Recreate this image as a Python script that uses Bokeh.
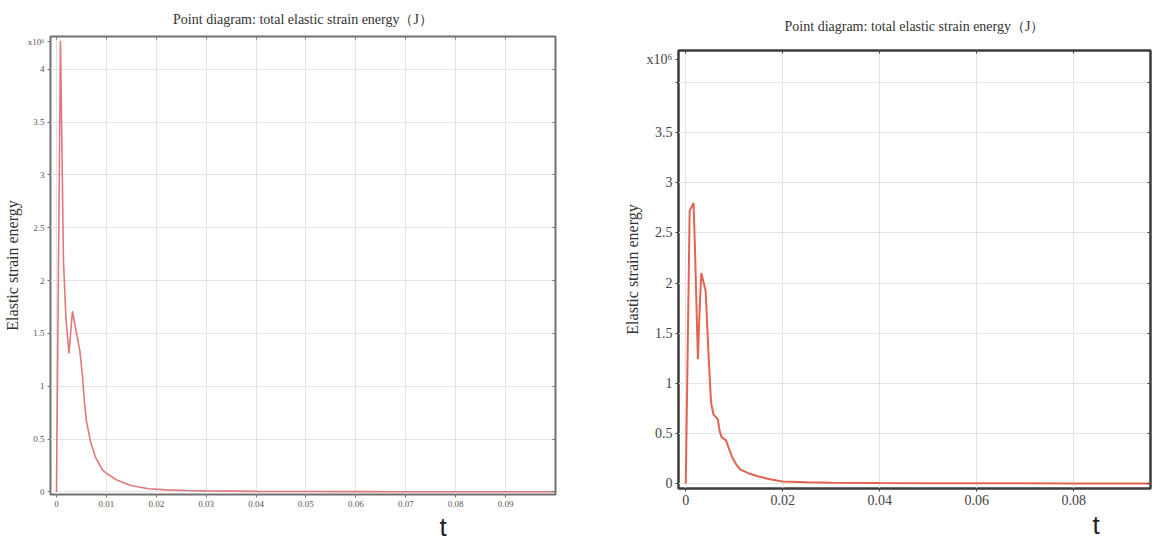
from bokeh.plotting import figure
from bokeh.layouts import row, column
from bokeh.models import Range1d, FixedTicker, LinearAxis, Title, CustomLabelingPolicy
from bokeh.embed import file_html
from bokeh.resources import INLINE

TITLE = "Point diagram: total elastic strain energy（J）"
YLABEL = "Elastic strain energy"
EXP_LABEL = "x10⁶"

# ---- data (energy in units of 10^6 J, time t in s) ----
t_left = [0.0, 0.0008, 0.0014, 0.0019, 0.0025, 0.0032, 0.0041, 0.0047, 0.0052, 0.0056,
          0.0060, 0.0068, 0.0078, 0.0092, 0.0102, 0.0122, 0.0149, 0.0184, 0.022, 0.026,
          0.030, 0.035, 0.040, 0.050, 0.060, 0.070, 0.080, 0.090, 0.100]
e_left = [0.0, 4.27, 2.18, 1.64, 1.31, 1.71, 1.48, 1.33, 1.10, 0.85,
          0.67, 0.48, 0.33, 0.21, 0.17, 0.11, 0.062, 0.03, 0.02, 0.014,
          0.010, 0.008, 0.006, 0.004, 0.003, 0.0025, 0.002, 0.002, 0.002]

t_right = [0.0, 0.0008, 0.0016, 0.0019, 0.0025, 0.0028, 0.0032, 0.0036, 0.0041, 0.0047,
           0.0052, 0.0057, 0.0066, 0.0070, 0.0074, 0.0083, 0.0088, 0.0095, 0.0104, 0.0112,
           0.0130, 0.0150, 0.0171, 0.0199, 0.025, 0.030, 0.040, 0.050, 0.060, 0.080, 0.100]
e_right = [0.0, 2.72, 2.80, 2.34, 1.24, 1.67, 2.10, 2.02, 1.92, 1.28,
           0.81, 0.69, 0.64, 0.52, 0.46, 0.43, 0.36, 0.27, 0.19, 0.14,
           0.10, 0.07, 0.045, 0.02, 0.012, 0.008, 0.004, 0.003, 0.002, 0.001, 0.001]

left_xticks = [0.0, 0.01, 0.02, 0.03, 0.04, 0.05, 0.06, 0.07, 0.08, 0.09]
left_xlabels = ["0", "0.01", "0.02", "0.03", "0.04", "0.05", "0.06", "0.07", "0.08", "0.09"]
right_xticks = [0.0, 0.02, 0.04, 0.06, 0.08, 0.1]
right_xlabels = ["0", "0.02", "0.04", "0.06", "0.08", "0.1"]
yticks = [0.0, 0.5, 1.0, 1.5, 2.0, 2.5, 3.0, 3.5, 4.0]
left_ylabels = ["0", "0.5", "1", "1.5", "2", "2.5", "3", "3.5", "4"]
right_ylabels = ["0", "0.5", "1", "1.5", "2", "2.5", "3", "3.5", ""]
# position (in units of 10^6) where the exponent note sits beside the y axis
left_exp_pos = 4.26
right_exp_pos = 4.23

HIDE_ALL = CustomLabelingPolicy(code="""
for (let i = 0; i < indices.size; i++) { indices.unset(i) }
return indices
""")


def make_panel(fw, fh, borders, xr, yr, xt, xl, yl, exp_pos, tick_font, tick_color,
               outline_color, outline_width, line_color, line_width, line_alpha, t, e,
               title_size, title_offset, title_standoff, t_offset, t_standoff, t_size,
               ylabel_standoff):
    p = figure(frame_width=fw, frame_height=fh, output_backend="svg", toolbar_location=None,
               x_range=Range1d(*xr), y_range=Range1d(*yr),
               min_border_left=borders[0], min_border_right=borders[1],
               min_border_top=borders[2], min_border_bottom=borders[3])
    p.background_fill_color = "white"
    p.border_fill_color = "white"
    p.outline_line_color = outline_color
    p.outline_line_width = outline_width

    p.title = Title(text=TITLE, align="center", offset=title_offset, standoff=title_standoff,
                    text_font="Liberation Serif", text_font_size=title_size,
                    text_font_style="normal", text_color="#333333")

    p.xaxis.ticker = FixedTicker(ticks=xt)
    p.yaxis.ticker = FixedTicker(ticks=yticks + [exp_pos])
    p.xaxis.major_label_overrides = {k: v for k, v in zip(xt, xl)}
    ylab = {k: v for k, v in zip(yticks, yl)}
    ylab[exp_pos] = EXP_LABEL
    p.yaxis.major_label_overrides = ylab
    for ax in (p.xaxis[0], p.yaxis[0]):
        ax.axis_line_color = None
        ax.major_tick_in = 0
        ax.major_tick_out = 3
        ax.major_tick_line_color = outline_color
        ax.minor_tick_line_color = None
        ax.major_label_text_font = "Liberation Sans Narrow"
        ax.major_label_text_font_size = tick_font
        ax.major_label_text_color = tick_color
        ax.major_label_standoff = 3
    p.yaxis.axis_label = YLABEL
    p.yaxis.axis_label_text_font = "Liberation Serif"
    p.yaxis.axis_label_text_font_style = "normal"
    p.yaxis.axis_label_text_font_size = "16px"
    p.yaxis.axis_label_text_color = "#333333"
    p.yaxis.axis_label_standoff = ylabel_standoff

    # mirrored ticks on the top and right edges (no labels)
    top = LinearAxis(ticker=FixedTicker(ticks=xt))
    rgt = LinearAxis(ticker=FixedTicker(ticks=yticks))
    for ax in (top, rgt):
        ax.axis_line_color = None
        ax.major_tick_in = 3
        ax.major_tick_out = 0
        ax.major_tick_line_color = outline_color
        ax.minor_tick_line_color = None
        ax.major_label_policy = HIDE_ALL
        ax.major_label_text_font_size = "0px"
        ax.major_label_standoff = 0
    p.add_layout(top, "above")
    p.add_layout(rgt, "right")

    p.xgrid.ticker = FixedTicker(ticks=xt)
    p.ygrid.ticker = FixedTicker(ticks=yticks)
    p.xgrid.grid_line_color = "#e4e4e4"
    p.ygrid.grid_line_color = "#e4e4e4"

    p.line(t, e, line_color=line_color, line_width=line_width, line_alpha=line_alpha)

    p.add_layout(Title(text="t", align="left", offset=t_offset, standoff=t_standoff,
                       text_font="Liberation Sans", text_font_size=t_size,
                       text_font_style="normal", text_color="#222222"), "below")
    return p


p1 = make_panel(505, 458, (44, 65, 28, 20), (-0.0012, 0.1), (-0.024, 4.31),
                left_xticks, left_xlabels, left_ylabels, left_exp_pos, "9px", "#555555",
                "#707070", 2, "#dc6064", 1.6, 0.85, t_left, e_left,
                "14px", 0, 19, 389, 0, "26px", 4)
p2 = make_panel(472, 438, (52, 2, 42, 20), (-0.0015, 0.0958), (-0.05, 4.32),
                right_xticks, right_xlabels, right_ylabels, right_exp_pos, "14px", "#444444",
                "#3c3c3c", 2.5, "#e35b47", 2.0, 0.95, t_right, e_right,
                "14px", -6, 33, 414, 0, "26px", 3)

layout = row(column(p1), column(p2))
open("out.html", "w").write(file_html(layout, INLINE))
